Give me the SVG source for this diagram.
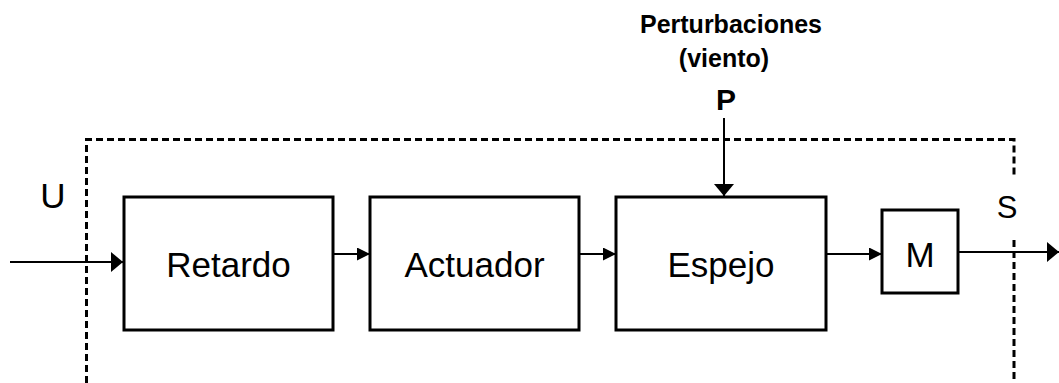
<svg xmlns="http://www.w3.org/2000/svg" width="1059" height="383" viewBox="0 0 1059 383">
<style>
.blk{fill:#fff;stroke:#000;stroke-width:3}
.lbl{font-family:"Liberation Sans",Arial,sans-serif;font-size:35px;fill:#000;text-anchor:middle}
.bold{font-family:"Liberation Sans",Arial,sans-serif;font-weight:bold;fill:#000;text-anchor:middle}
.con{stroke:#000;stroke-width:2;fill:none}
.dash{stroke:#000;stroke-width:3;fill:none;stroke-dasharray:7 4}
</style>
<defs>
<marker id="big" markerWidth="12" markerHeight="20" refX="12" refY="10" orient="auto" markerUnits="userSpaceOnUse"><path d="M0,0 L12,10 L0,20 Z" fill="#000"/></marker>
<marker id="small" markerWidth="13" markerHeight="13" refX="13" refY="6.5" orient="auto" markerUnits="userSpaceOnUse"><path d="M0,0 L13,6.5 L0,13 Z" fill="#000"/></marker>
</defs>
<rect width="1059" height="383" fill="#fff"/>
<g id="boundary">
<path class="dash" d="M86.5,383 V139.5 H1014 V177"/>
<path class="dash" d="M1014,240 V383"/>
</g>
<g id="connectors">
<line class="con" x1="10" y1="262" x2="123" y2="262" marker-end="url(#big)"/>
<line class="con" x1="333" y1="254" x2="370" y2="254" marker-end="url(#small)"/>
<line class="con" x1="579" y1="254" x2="616" y2="254" marker-end="url(#small)"/>
<line class="con" x1="826" y1="254" x2="882" y2="254" marker-end="url(#small)"/>
<line class="con" x1="958" y1="252" x2="1059" y2="252" marker-end="url(#big)"/>
<line class="con" x1="724" y1="118" x2="724" y2="196" marker-end="url(#big)"/>
</g>
<g id="retardo"><rect class="blk" x="124" y="197" width="209" height="133"/><text class="lbl" x="228.5" y="277">Retardo</text></g>
<g id="actuador"><rect class="blk" x="370" y="197" width="209" height="133"/><text class="lbl" x="474.5" y="277">Actuador</text></g>
<g id="espejo"><rect class="blk" x="616" y="197" width="210" height="133"/><text class="lbl" x="721" y="277">Espejo</text></g>
<g id="m"><rect class="blk" x="882" y="210" width="76" height="83"/><text class="lbl" x="920" y="267">M</text></g>
<g id="labels">
<text class="lbl" x="53" y="208">U</text>
<text class="lbl" x="1007" y="218" style="font-size:31px">S</text>
<text class="bold" x="731" y="33" style="font-size:25px">Perturbaciones</text>
<text class="bold" x="724" y="67" style="font-size:25px">(viento)</text>
<text class="bold" x="726" y="110" style="font-size:30px">P</text>
</g>
</svg>
